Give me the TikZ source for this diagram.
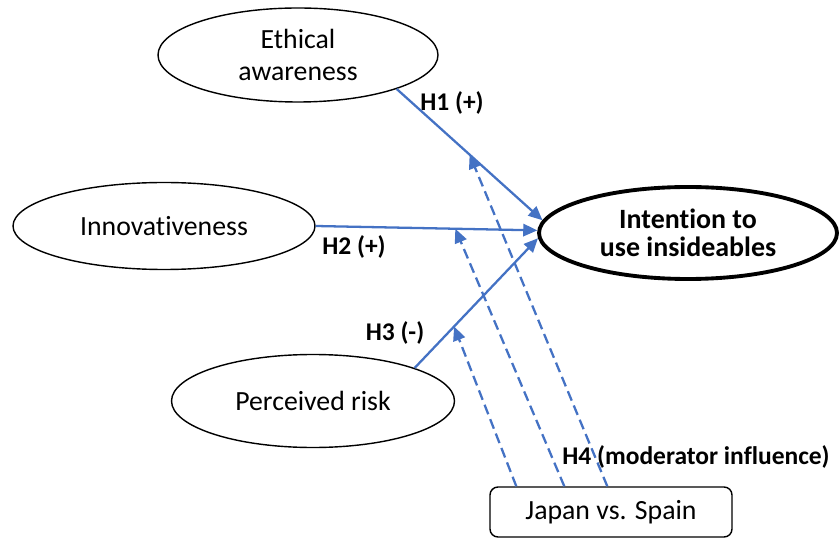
\documentclass[tikz,border=0pt]{standalone}
\usepackage{fontspec}
\setmainfont{Carlito}[Ligatures={NoCommon}]
\usetikzlibrary{shapes.geometric, arrows.meta}
\newcommand{\px}{0.2mm}
\definecolor{linkblue}{RGB}{68,114,196}

\begin{document}
\begin{tikzpicture}[oval/.style={draw, ellipse, inner sep=0pt, line width=0.8pt, align=center, font=\fontsize{15.8}{18}\selectfont},
    link/.style={draw=linkblue, line width=1.3pt, -{Triangle[length=8pt, width=7pt]}},
    modlink/.style={link, dash pattern=on 5.8pt off 3pt},
    hyp/.style={font=\bfseries\fontsize{14.5}{17}\selectfont, inner sep=0pt}]
    \useasboundingbox (0,0) rectangle (840*\px,539*\px);

    % Constructs
    \node[oval, minimum width=280*\px, minimum height=94*\px] (ethical) at (298*\px,484*\px) {Ethical\\awareness};
    \node[oval, minimum width=302*\px, minimum height=87*\px] (innov) at (164*\px,313*\px) {Innovativeness};
    \node[oval, minimum width=283*\px, minimum height=93*\px] (risk) at (313*\px,138*\px) {Perceived risk};
    \node[oval, minimum width=298*\px, minimum height=92*\px, line width=2.2pt, font=\bfseries\fontsize{15.9}{15.8}\selectfont] (intention) at (688*\px,306*\px) {Intention to\\use insideables};

    % Moderator
    \node[draw, rounded corners=8*\px, line width=0.8pt, minimum width=242*\px, minimum height=50*\px, font=\fontsize{15.8}{18}\selectfont] (country) at (611*\px,27*\px) {Japan vs. Spain};

    % Hypotheses
    \draw[link] (ethical.-19) -- coordinate[pos=0.5] (h1mid) (intention.175);
    \draw[link] (innov.east) -- coordinate[pos=0.63] (h2mid) (intention.179);
    \draw[link] (risk.18) -- coordinate[pos=0.32] (h3mid) (intention.182);

    \draw[modlink] ([xshift=27*\px]country.north west) -- (h3mid);
    \draw[modlink] ([xshift=75*\px]country.north west) -- (h2mid);
    \draw[modlink] ([xshift=118*\px]country.north west) -- (h1mid);

    \node[hyp] (h1) at (452*\px,436*\px) {H1 (+)};
    \node[hyp] (h2) at (354*\px,292*\px) {H2 (+)};
    \node[hyp] (h3) at (395*\px,206*\px) {H3 (-)};
    \node[hyp] (h4) at (696*\px,82*\px) {H4 (moderator influence)};

\end{tikzpicture}
\end{document}
